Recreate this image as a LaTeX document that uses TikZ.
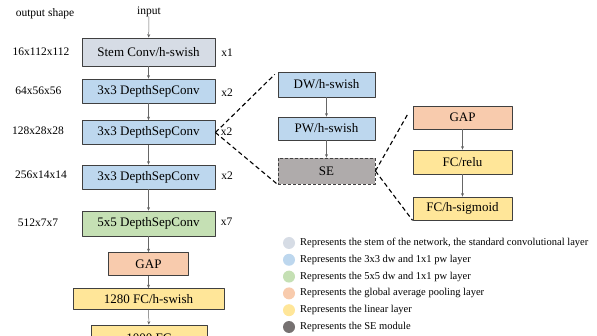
\documentclass[tikz,border=0pt]{standalone}
\usepackage{fontspec}
\setmainfont{Liberation Serif}
\usetikzlibrary{arrows.meta}

\definecolor{stemc}{HTML}{D6DCE5}
\definecolor{dwc}{HTML}{BDD7EE}
\definecolor{fivec}{HTML}{C5E0B4}
\definecolor{gapc}{HTML}{F8CBAD}
\definecolor{linc}{HTML}{FFE699}
\definecolor{sec}{HTML}{AFABAB}
\definecolor{sedark}{HTML}{767171}

\begin{document}
\begin{tikzpicture}[x=1pt, y=-1pt, >={Stealth[length=3.5pt,width=3pt]}, line join=round,
    blk/.style={draw=black!75, line width=0.8pt, minimum height=24pt, inner sep=0pt, font=\fontsize{13}{15}\selectfont},
    side/.style={inner sep=0pt, font=\fontsize{11.5}{13}\selectfont},
    flow/.style={->, draw=black!60, line width=0.5pt},
    link/.style={draw=black, line width=1.1pt, dash pattern=on 4.5pt off 3pt}]
    \useasboundingbox (0,0) rectangle (597,336);

    % Main network
    \node[side] (inp) at (149,12) {input};
    \node[blk, fill=stemc, minimum width=133pt, minimum height=28pt] (stem) at (148.5,52) {Stem Conv/h-swish};
    \node[blk, fill=dwc, minimum width=133pt] (c1) at (148.5,91) {3x3 DepthSepConv};
    \node[blk, fill=dwc, minimum width=133pt] (c2) at (148.5,132.5) {3x3 DepthSepConv};
    \node[blk, fill=dwc, minimum width=133pt] (c3) at (148.5,177) {3x3 DepthSepConv};
    \node[blk, fill=fivec, minimum width=133pt, minimum height=25pt] (c4) at (148.5,223.5) {5x5 DepthSepConv};
    \node[blk, fill=gapc, minimum width=80pt, minimum height=23pt] (gap) at (148.5,264) {GAP};
    \node[blk, fill=linc, minimum width=151pt, minimum height=21pt] (fc1) at (148.5,299) {1280 FC/h-swish};
    \node[blk, fill=linc, minimum width=116pt, minimum height=26pt] (fc2) at (149,338) {1000 FC};

    \draw[flow] (inp) -- (stem);
    \draw[flow] (stem) -- (c1);
    \draw[flow] (c1) -- (c2);
    \draw[flow] (c2) -- (c3);
    \draw[flow] (c3) -- (c4);
    \draw[flow] (c4) -- (gap);
    \draw[flow] (gap) -- (fc1);
    \draw[flow] (fc1) -- (fc2);

    % Output shapes and repeats
    \node[side] (hdr) at (45,14) {output shape};
    \node[side] (s0) at (41,52) {16x112x112};
    \node[side] (s1) at (38.5,91) {64x56x56};
    \node[side] (s2) at (38,131) {128x28x28};
    \node[side] (s3) at (41,175) {256x14x14};
    \node[side] (s4) at (38,223) {512x7x7};
    \node[side] (r0) at (227,53) {x1};
    \node[side] (r1) at (227,93) {x2};
    \node[side] (r2) at (226.5,132) {x2};
    \node[side] (r3) at (227,176) {x2};
    \node[side] (r4) at (226.5,222) {x7};

    % Depthwise separable block
    \node[blk, fill=dwc, minimum width=97pt, minimum height=25pt] (dw) at (326.5,84.5) {DW/h-swish};
    \node[blk, fill=dwc, minimum width=97pt, minimum height=23pt] (pw) at (326.5,128.5) {PW/h-swish};
    \node[blk, fill=sec, minimum width=97pt, minimum height=26pt, dash pattern=on 3pt off 2pt] (se) at (326.5,171) {SE};
    \draw[flow] (dw) -- (pw);
    \draw[flow] (pw) -- (se);

    % SE module
    \node[blk, fill=gapc, minimum width=99pt, minimum height=23pt] (sgap) at (462.5,117.5) {GAP};
    \node[blk, fill=linc, minimum width=99pt] (relu) at (462.5,162) {FC/relu};
    \node[blk, fill=linc, minimum width=99pt, minimum height=23pt] (sig) at (462.5,208.5) {FC/h-sigmoid};
    \draw[flow] (sgap) -- (relu);
    \draw[flow] (relu) -- (sig);

    % Zoom lines
    \draw[link, shorten >=4pt] (c2.east) -- (dw.north west);
    \draw[link] (c2.east) -- (se.south west);
    \draw[link, shorten >=10pt] (se.east) -- (sgap.north west);
    \draw[link] (se.east) -- (sig.south west);

    % Legend
    \foreach \c/\t [count=\i from 0] in {
        stemc/{Represents the stem of the network, the standard convolutional layer},
        dwc/{Represents the 3x3 dw and 1x1 pw layer},
        fivec/{Represents the 5x5 dw and 1x1 pw layer},
        gapc/{Represents the global average pooling layer},
        linc/{Represents the linear layer},
        sedark/{Represents the SE module}}{
        \node[circle, fill=\c, minimum size=12pt, inner sep=0pt] (dot\i) at (289,243+16.8*\i) {};
        \node[anchor=west, inner sep=0pt, font=\fontsize{10.5}{12}\selectfont] (txt\i) at (300,243+16.8*\i) {\t};
    }
\end{tikzpicture}
\end{document}
